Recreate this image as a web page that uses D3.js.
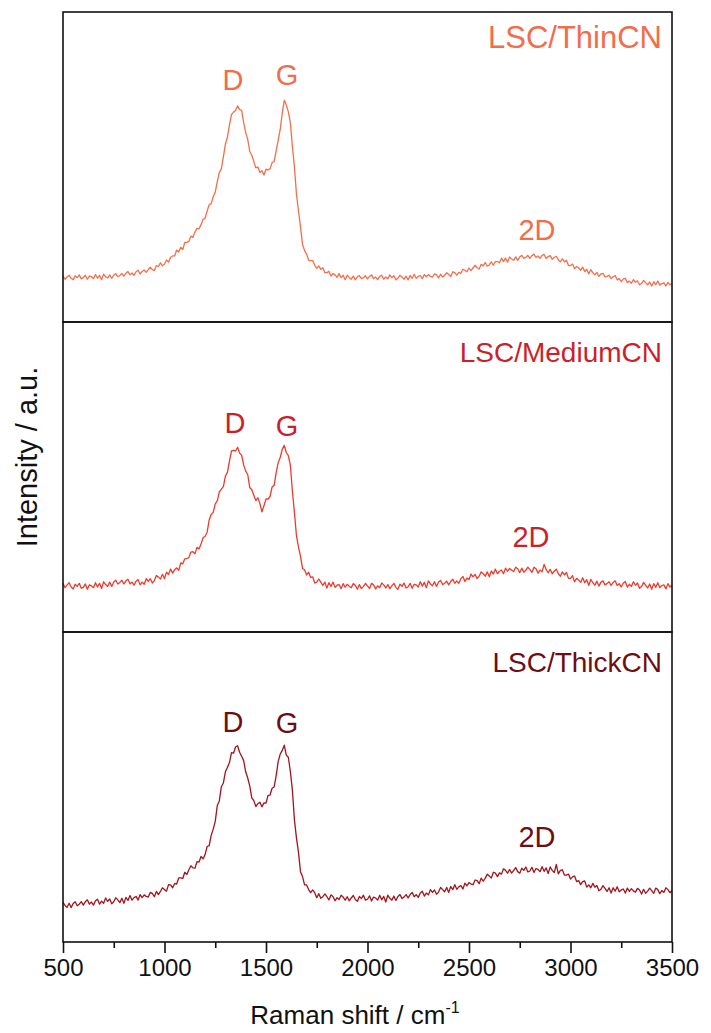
<!DOCTYPE html>
<html>
<head>
<meta charset="utf-8">
<script src="https://cdn.jsdelivr.net/npm/d3@7"></script>
<style>
  html, body { margin: 0; padding: 0; background: #fff; }
  svg { display: block; }
  text { font-family: "Liberation Sans", Arial, Helvetica, sans-serif; }
</style>
</head>
<body>
<svg id="chart" width="711" height="1033"></svg>
<script>
// Raman shift grid (cm-1), one reading every 10 cm-1
const ramanShift = d3.range(500, 3501, 10);

// Intensity (a.u.) for each sample, same grid as ramanShift
const thinCN = [
  14.8,13.8,14.5,15.1,14.1,13.6,14.9,14.3,15.2,13.9,
  14.3,15.1,13.8,14.8,14.6,14.0,15.3,14.1,15.0,13.6,
  15.4,14.6,14.2,15.2,14.1,15.1,15.6,14.6,15.0,15.7,
  14.8,15.7,16.3,15.2,15.8,15.1,16.2,16.7,15.5,16.3,
  16.8,16.0,16.9,17.7,16.9,16.6,18.2,17.9,19.1,18.1,
  18.7,20.0,19.3,20.9,21.3,21.3,23.2,22.6,24.1,23.4,
  25.7,25.7,26.0,27.7,27.3,29.0,30.2,30.1,31.4,33.1,
  33.5,35.8,37.8,38.2,40.5,41.9,45.3,48.2,49.4,53.3,
  57.4,59.6,63.6,66.9,67.7,68.2,69.7,68.5,68.3,64.3,
  61.1,58.9,55.0,53.8,51.8,49.7,50.0,48.2,48.8,47.4,
  49.3,49.1,49.4,51.4,51.7,55.2,58.6,62.1,67.4,71.5,
  70.0,67.8,64.3,56.6,50.1,41.3,35.8,30.7,24.9,23.1,
  21.9,19.9,19.8,19.8,18.3,17.3,18.1,17.0,17.5,15.9,
  15.9,16.4,14.8,15.6,15.2,14.4,15.6,14.3,15.1,13.6,
  15.1,14.3,13.8,14.8,13.6,14.6,15.0,14.0,14.3,14.9,
  13.9,14.7,15.2,14.0,14.5,13.7,14.7,15.1,13.8,14.5,
  13.9,15.2,14.3,14.9,13.6,14.1,15.1,14.5,13.8,14.8,
  13.6,15.0,14.1,15.4,14.1,14.7,15.0,14.0,15.3,14.6,
  15.3,14.7,14.5,15.5,15.2,14.2,15.4,14.5,15.0,15.9,
  15.3,14.7,16.2,15.9,15.1,16.0,15.7,17.0,16.7,16.2,
  17.4,16.6,17.5,18.3,17.5,17.1,18.6,18.1,19.2,18.0,
  18.4,19.4,18.3,19.5,19.5,19.1,20.6,19.5,20.6,19.3,
  21.0,20.3,19.9,21.0,19.9,21.0,21.5,20.5,20.9,21.5,
  20.5,21.4,21.9,20.8,21.3,20.5,21.5,21.8,20.5,21.1,
  21.4,20.2,20.8,21.2,20.1,19.4,20.4,19.4,19.9,18.2,
  18.2,18.7,17.2,17.9,17.5,16.7,17.7,16.3,17.0,15.5,
  16.9,15.9,15.2,16.0,14.7,15.5,15.7,14.6,14.7,15.1,
  14.0,14.6,15.0,13.6,14.0,13.0,13.9,14.1,12.7,13.2,
  12.5,13.7,12.8,13.3,12.0,12.4,13.4,12.7,12.0,12.9,
  11.6,13.0,12.0,13.2,11.9,12.4,12.6,11.6,12.8,12.0,
  12.4
];

const mediumCN = [
  15.7,14.3,15.1,15.9,14.5,13.9,15.4,14.7,15.7,14.1,
  14.4,15.5,13.8,15.2,14.9,14.3,15.9,14.5,15.7,14.0,
  16.2,15.3,14.7,16.1,14.7,16.1,16.7,15.5,16.0,16.7,
  15.5,16.5,17.0,15.5,16.1,15.1,16.4,16.9,15.2,16.1,
  15.4,17.2,16.3,17.2,15.8,16.6,18.2,17.7,17.1,18.6,
  17.2,19.3,18.5,20.3,19.0,20.1,20.7,19.9,22.3,22.0,
  23.6,23.7,24.0,25.8,25.9,25.2,27.3,26.8,28.4,30.4,
  30.9,32.2,36.1,37.9,38.6,41.3,42.3,45.2,46.1,46.9,
  50.3,51.5,55.1,58.4,58.6,58.4,59.6,57.7,57.0,53.9,
  51.9,50.8,46.6,45.9,44.1,42.4,43.3,41.4,38.8,40.7,
  42.9,42.9,43.7,46.8,47.3,51.3,54.6,56.3,58.9,60.2,
  57.9,56.9,53.8,45.5,38.6,31.1,27.4,24.4,20.5,20.1,
  18.4,19.3,17.6,17.8,15.8,16.1,17.1,16.1,15.0,16.1,
  14.2,15.9,14.7,16.1,14.4,15.1,15.3,14.0,15.6,14.5,
  15.4,14.7,14.3,15.6,15.1,13.8,15.3,14.0,14.7,15.7,
  14.9,14.0,15.7,15.2,13.9,14.9,14.3,15.8,15.2,14.2,
  15.3,14.0,14.9,15.7,14.4,13.8,15.4,14.7,15.8,14.2,
  14.6,15.7,14.1,15.4,15.2,14.5,16.2,14.8,16.0,14.3,
  16.5,15.5,14.9,16.2,14.7,16.1,16.6,15.3,15.7,16.4,
  15.2,16.3,17.0,15.7,16.5,15.7,17.2,17.9,16.3,17.4,
  16.9,18.7,17.8,18.6,17.2,18.0,19.4,18.8,18.0,19.4,
  17.8,19.7,18.7,20.3,18.8,19.6,20.0,18.8,20.6,19.6,
  20.5,19.9,19.5,20.9,20.4,19.1,20.6,19.3,19.9,20.9,
  20.1,19.2,20.9,20.4,19.0,20.0,19.4,21.8,20.2,19.1,
  20.2,18.8,19.6,20.3,18.8,18.0,19.4,18.4,19.2,17.3,
  17.3,18.2,16.2,17.3,16.8,16.0,17.5,15.9,16.9,15.0,
  17.0,15.9,15.1,16.4,14.8,16.1,16.5,15.2,15.6,16.2,
  15.0,16.0,16.5,15.0,15.6,14.5,15.8,16.3,14.5,15.4,
  14.7,16.2,15.1,15.8,14.1,14.7,16.0,15.1,14.2,15.5,
  13.8,15.6,14.4,15.9,14.3,15.0,15.2,13.9,15.6,14.5,
  15.1
];

const thickCN = [
  12.8,11.8,11.2,12.5,11.1,12.4,13.0,11.7,12.2,13.0,
  11.9,13.0,13.6,12.2,12.9,11.9,13.3,13.8,12.2,13.2,
  12.5,14.2,13.1,13.9,12.3,13.0,14.3,13.6,12.7,14.1,
  12.5,14.4,13.4,15.0,13.5,14.3,14.7,13.5,15.3,14.3,
  15.2,14.7,14.5,16.0,15.7,14.6,16.3,15.3,16.3,17.5,
  16.9,16.4,18.5,18.4,17.5,18.9,18.7,20.7,20.7,20.5,
  22.5,21.8,23.3,24.6,23.9,23.8,25.9,25.8,27.6,26.8,
  28.2,30.8,31.1,34.4,36.4,38.9,44.0,45.5,50.1,51.3,
  54.9,56.4,57.9,61.1,60.9,62.9,63.3,61.2,59.9,58.5,
  54.9,52.9,50.3,46.5,45.6,43.7,44.6,45.1,43.6,44.9,
  44.8,47.3,47.4,49.6,50.0,53.6,58.2,60.6,61.8,63.5,
  60.3,59.6,55.0,49.0,39.4,33.6,28.9,22.6,21.1,18.4,
  18.4,16.9,15.9,16.8,15.9,14.3,15.6,14.1,14.6,15.5,
  14.6,13.6,15.2,14.7,13.3,14.3,13.7,15.1,14.5,13.5,
  14.6,13.3,14.2,15.0,13.7,13.1,14.7,14.0,15.1,13.5,
  13.8,14.9,13.2,14.5,14.2,13.5,15.1,13.6,14.7,12.9,
  15.1,14.1,13.5,14.8,13.4,14.7,15.3,14.0,14.5,15.3,
  14.2,15.3,16.0,14.6,15.3,14.4,15.8,16.4,14.8,15.8,
  15.2,16.9,16.0,16.8,15.4,16.1,17.6,16.9,16.2,17.6,
  16.0,17.9,16.9,18.5,17.0,17.8,18.2,17.1,19.0,18.1,
  19.2,18.7,18.5,20.0,19.8,18.8,20.6,19.6,20.6,21.9,
  21.3,20.6,22.5,22.2,21.1,22.3,21.9,23.6,23.1,22.2,
  23.4,22.2,23.1,24.0,22.7,22.2,23.8,23.1,24.2,22.6,
  22.9,24.1,22.4,23.7,23.4,22.7,24.3,22.8,23.9,22.1,
  24.2,23.1,22.4,25.0,22.0,23.1,23.3,21.6,21.6,21.9,
  20.3,21.0,21.3,19.5,19.8,18.5,19.5,19.7,17.7,18.4,
  17.5,18.9,17.7,18.2,16.5,17.0,18.2,17.3,16.3,17.5,
  15.8,17.5,16.4,17.8,16.2,16.8,17.1,15.8,17.4,16.3,
  17.2,16.5,16.1,17.3,16.8,15.5,17.0,15.7,16.4,17.4,
  16.6,15.7,17.4,16.9,15.6,16.6,16.0,17.5,16.9,15.9,
  16.6
];

const sampleNames = ["LSC/ThinCN", "LSC/MediumCN", "LSC/ThickCN"];
const lineColors  = ["#f56e4b", "#ee3a2c", "#a3141d"];
const textColors  = ["#f26d4c", "#cc1f2a", "#6e0e13"];

// Band labels: name, Raman shift (cm-1) and intensity level where each sits
const bandNames = ["D", "G", "2D"];
const bandShift = [[1337, 1603, 2835], [1347, 1603, 2805], [1337, 1603, 2835]];
const bandLevel = [[74.8, 76.5, 26.5], [64.2, 63.2, 27.4], [67.7, 67.4, 30.6]];

const xTickValues = d3.range(500, 3501, 500);
const xMinorTicks = d3.range(750, 3500, 500);

// Layout
const plotLeft = 63, plotRight = 672, plotTop = 12, panelH = 310;
const nameOffset = [36, 40, 40];
const nameSize = [31, 28, 28];
const series = [thinCN, mediumCN, thickCN];

const svg = d3.select("#chart");
const x = d3.scaleLinear().domain([500, 3500]).range([plotLeft, plotRight]);

series.forEach((vals, i) => {
  const y0 = plotTop + i * panelH;
  const y = d3.scaleLinear().domain([0, 100]).range([y0 + panelH, y0]);
  const g = svg.append("g");

  const line = d3.line()
    .x((d, j) => x(ramanShift[j]))
    .y(d => y(d));

  g.append("path")
    .datum(vals)
    .attr("d", line)
    .attr("fill", "none")
    .attr("stroke", lineColors[i])
    .attr("stroke-width", 1.3)
    .attr("stroke-linejoin", "round");

  g.append("text")
    .attr("x", plotRight - 10)
    .attr("y", y0 + nameOffset[i])
    .attr("text-anchor", "end")
    .attr("font-size", nameSize[i])
    .attr("fill", textColors[i])
    .text(sampleNames[i]);

  bandNames.forEach((b, k) => {
    g.append("text")
      .attr("x", x(bandShift[i][k]))
      .attr("y", y(bandLevel[i][k]))
      .attr("text-anchor", "middle")
      .attr("font-size", 29)
      .attr("fill", textColors[i])
      .text(b);
  });

  g.append("rect")
    .attr("x", plotLeft).attr("y", y0)
    .attr("width", plotRight - plotLeft).attr("height", panelH)
    .attr("fill", "none")
    .attr("stroke", "#111")
    .attr("stroke-width", 1.6);
});

// Bottom axis
const axisY = plotTop + 3 * panelH;
const xAxis = svg.append("g")
  .attr("transform", `translate(0,${axisY})`)
  .call(d3.axisBottom(x).tickValues(xTickValues).tickFormat(d3.format("d"))
    .tickSize(11).tickPadding(6))
  .call(g => g.select(".domain").remove());
xAxis.selectAll(".tick line").attr("stroke", "#111").attr("stroke-width", 1.6);
xAxis.selectAll(".tick text")
  .attr("font-size", 24)
  .attr("fill", "#111")
  .attr("font-family", "\"Liberation Sans\", Arial, sans-serif");

const minor = svg.append("g")
  .attr("transform", `translate(0,${axisY})`)
  .call(d3.axisBottom(x).tickValues(xMinorTicks).tickFormat("").tickSize(6))
  .call(g => g.select(".domain").remove());
minor.selectAll(".tick line").attr("stroke", "#111").attr("stroke-width", 1.6);

// Axis titles
const xTitle = svg.append("text")
  .attr("x", 355)
  .attr("y", 1024)
  .attr("text-anchor", "middle")
  .attr("font-size", 26)
  .attr("fill", "#111");
xTitle.append("tspan").text("Raman shift / cm");
xTitle.append("tspan").attr("font-size", 16).attr("dy", -11).text("-1");

svg.append("text")
  .attr("transform", `translate(37,457) rotate(-90)`)
  .attr("text-anchor", "middle")
  .attr("font-size", 29)
  .attr("fill", "#111")
  .text("Intensity / a.u.");
</script>
</body>
</html>
